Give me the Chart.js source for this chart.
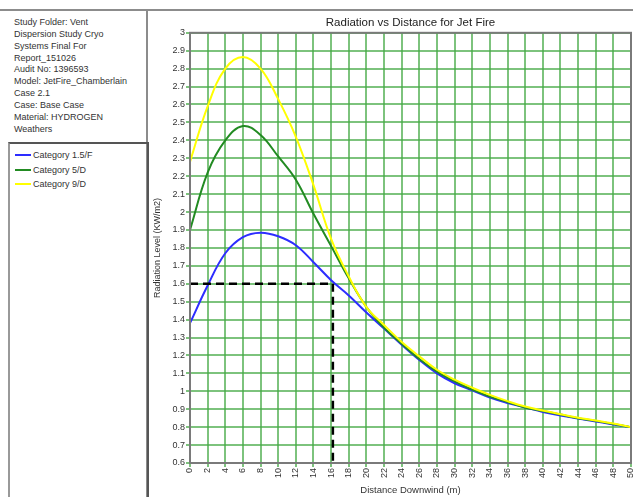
<!DOCTYPE html>
<html>
<head>
<meta charset="utf-8">
<script src="https://cdn.jsdelivr.net/npm/chart.js@4/dist/chart.umd.min.js"></script>
<style>
  html, body { margin:0; padding:0; background:#fff; width:633px; height:497px; overflow:hidden; font-family:"Liberation Sans", Arial, sans-serif; }
  #topline { position:absolute; left:0; top:9px; width:633px; height:2px; background:#8c8c8c; }
  #vline { position:absolute; left:146px; top:9px; width:2px; height:488px; background:#8c8c8c; }
  #info { position:absolute; left:14px; top:17px; font-size:9px; line-height:11.85px; color:#333; }
  #legendBox { position:absolute; left:8px; top:142px; width:137px; height:360px; border-top:2px solid #555; border-left:2px solid #999; border-right:2px solid #555; }
  .leg { position:absolute; left:5px; font-size:9px; color:#333; height:12px; line-height:12px; }
  .leg span.sw { position:absolute; left:0; top:5px; width:16px; height:2px; }
  .leg span.tx { position:absolute; left:18px; top:0; white-space:nowrap; }
  #wrap { position:absolute; left:148px; top:12px; width:485px; height:485px; }
</style>
</head>
<body>
<div id="topline"></div>
<div id="vline"></div>
<div id="info"></div>
<div id="legendBox"></div>
<div id="wrap"><canvas id="c" width="485" height="485"></canvas></div>
<script>
// ---- data ----
const infoLines = ["Study Folder: Vent","Dispersion Study Cryo","Systems Final For","Report_151026","Audit No: 1396593","Model: JetFire_Chamberlain","Case 2.1","Case: Base Case","Material: HYDROGEN","Weathers"];
const chartTitle = "Radiation vs Distance for Jet Fire";
const xTitle = "Distance Downwind (m)";
const yTitle = "Radiation Level (KW/m2)";
const seriesNames = ["Category 1.5/F","Category 5/D","Category 9/D"];
const distances = [0,2,4,6,8,10,12,14,16,18,20,22,24,26,28,30,32,34,36,38,40,42,44,46,48,50];
const cat15F = [1.38,1.59,1.77,1.86,1.885,1.865,1.815,1.72,1.62,1.535,1.44,1.35,1.26,1.175,1.10,1.045,1.005,0.965,0.935,0.91,0.885,0.865,0.848,0.832,0.815,0.80];
const cat5D  = [1.90,2.22,2.40,2.48,2.43,2.31,2.18,1.99,1.81,1.63,1.47,1.355,1.265,1.18,1.11,1.055,1.01,0.97,0.94,0.91,0.89,0.87,0.85,0.835,0.818,0.80];
const cat9D  = [2.28,2.59,2.80,2.865,2.80,2.63,2.42,2.15,1.85,1.64,1.47,1.37,1.275,1.195,1.12,1.065,1.02,0.98,0.945,0.915,0.893,0.872,0.853,0.837,0.82,0.80];
const markerX = [0,16.2,16.2];
const markerY = [1.6,1.6,0.6];
const xTicks = [0,2,4,6,8,10,12,14,16,18,20,22,24,26,28,30,32,34,36,38,40,42,44,46,48,50];
const yTicks = [0.6,0.7,0.8,0.9,1,1.1,1.2,1.3,1.4,1.5,1.6,1.7,1.8,1.9,2,2.1,2.2,2.3,2.4,2.5,2.6,2.7,2.8,2.9,3];
const colors = ["rgb(45,45,255)","rgb(34,139,34)","rgb(255,255,0)"];

// ---- left panel ----
document.getElementById('info').innerHTML = infoLines.map(s => s.replace(/&/g,'&amp;')).join('<br>');
const lb = document.getElementById('legendBox');
seriesNames.forEach((n,i) => {
  const d = document.createElement('div');
  d.className = 'leg';
  d.style.top = (5 + i*14.5) + 'px';
  d.innerHTML = '<span class="sw" style="background:'+colors[i]+'"></span><span class="tx">'+n+'</span>';
  lb.appendChild(d);
});

const pts = (xs, ys) => xs.map((x,i) => ({x:x, y:ys[i]}));
const gridGreen = 'rgba(70,170,70,0.7)';

const frame = {
  id:'frame',
  afterDraw(chart){
    const a = chart.chartArea, ctx = chart.ctx;
    ctx.save();
    ctx.strokeStyle = '#7a7a7a';
    ctx.lineWidth = 2;
    ctx.strokeRect(a.left, a.top, a.right-a.left, a.bottom-a.top);
    ctx.restore();
  }
};

new Chart(document.getElementById('c'), {
  type:'line',
  data:{
    datasets:[
      {label:'marker', data:pts(markerX,markerY), borderColor:'#000', borderWidth:2.5, borderDash:[8,5], pointRadius:0, tension:0, order:0},
      {label:seriesNames[2], data:pts(distances,cat9D), borderColor:colors[2], borderWidth:2, pointRadius:0, tension:0.4, order:1},
      {label:seriesNames[1], data:pts(distances,cat5D), borderColor:colors[1], borderWidth:2, pointRadius:0, tension:0.4, order:2},
      {label:seriesNames[0], data:pts(distances,cat15F), borderColor:colors[0], borderWidth:2, pointRadius:0, tension:0.4, order:3}
    ]
  },
  options:{
    responsive:false,
    animation:false,
    layout:{padding:{top:0,right:2,left:0,bottom:0}},
    plugins:{
      legend:{display:false},
      tooltip:{enabled:false},
      title:{display:true, text:chartTitle, fullSize:false, color:'#222', font:{family:'"Liberation Sans", Arial', size:11.5, weight:'normal'}, padding:{top:4,bottom:3}}
    },
    scales:{
      x:{
        type:'linear', min:0, max:50,
        afterBuildTicks(s){ s.ticks = xTicks.map(v=>({value:v})); },
        afterFit(s){ s.height = 34; s.paddingLeft = 0; s.paddingRight = 0; },
        ticks:{ autoSkip:false, minRotation:90, maxRotation:90, padding:1, color:'#333', font:{family:'"Liberation Sans", Arial', size:9}, callback:(v)=>String(v) },
        grid:{ color:gridGreen, lineWidth:2, tickLength:4, tickColor:gridGreen },
        border:{ color:'#7a7a7a', width:2 },
        title:{ display:true, text:xTitle, color:'#333', font:{family:'"Liberation Sans", Arial', size:9.5}, padding:{top:0,bottom:1} }
      },
      y:{
        type:'linear', min:0.6, max:3,
        afterBuildTicks(s){ s.ticks = yTicks.map(v=>({value:v})); },
        afterFit(s){ s.width = 42; },
        ticks:{ autoSkip:false, padding:1, color:'#333', font:{family:'"Liberation Sans", Arial', size:9}, callback:(v)=>String(Math.round(v*10)/10) },
        grid:{ color:gridGreen, lineWidth:2, tickLength:4, tickColor:gridGreen },
        border:{ color:'#7a7a7a', width:2 },
        title:{ display:true, text:yTitle, color:'#333', font:{family:'"Liberation Sans", Arial', size:9}, padding:{top:4,bottom:0} }
      }
    }
  },
  plugins:[frame]
});
</script>
</body>
</html>
